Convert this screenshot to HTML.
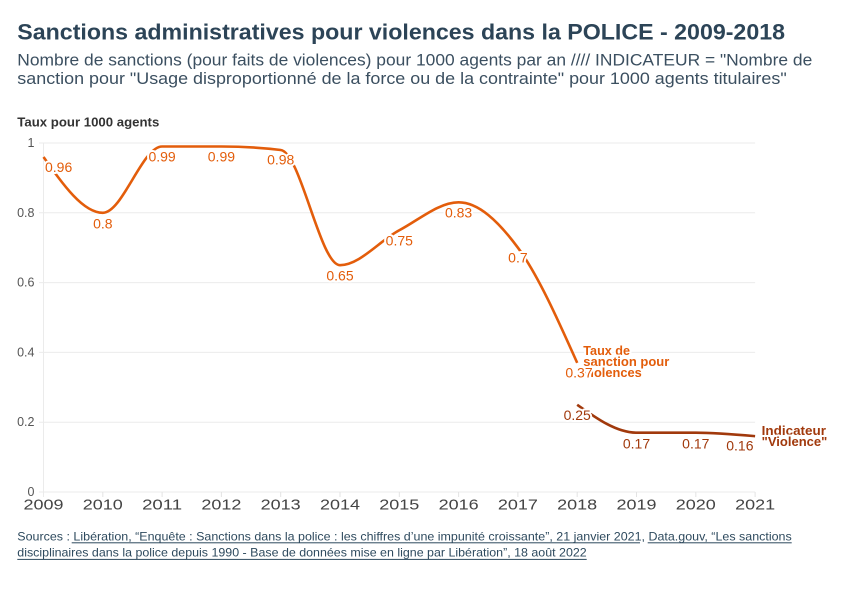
<!DOCTYPE html>
<html>
<head>
<meta charset="utf-8">
<style>
  html,body{margin:0;padding:0;background:#fff;}
  svg{display:block;}
  text{font-family:"Liberation Sans", Arial, sans-serif;}
  .lbl{font-size:14px;stroke:#fff;stroke-width:4px;paint-order:stroke;stroke-linejoin:round;}
</style>
</head>
<body>
<svg width="866" height="598" viewBox="0 0 866 598" xmlns="http://www.w3.org/2000/svg">
  <rect width="866" height="598" fill="#fff"/>

  <!-- Title / subtitle -->
  <text x="17.3" y="39.5" font-size="22.5" font-weight="bold" fill="#2c4457" textLength="767.7" lengthAdjust="spacingAndGlyphs">Sanctions administratives pour violences dans la POLICE - 2009-2018</text>
  <text x="17.3" y="65.5" font-size="17" fill="#3b4f60" textLength="795" lengthAdjust="spacingAndGlyphs">Nombre de sanctions (pour faits de violences) pour 1000 agents par an //// INDICATEUR = "Nombre de</text>
  <text x="17.3" y="84.2" font-size="17" fill="#3b4f60" textLength="769.4" lengthAdjust="spacingAndGlyphs">sanction pour "Usage disproportionné de la force ou de la contrainte" pour 1000 agents titulaires"</text>

  <!-- Axis title -->
  <text x="17.3" y="126.7" font-size="13" font-weight="bold" fill="#333" textLength="142" lengthAdjust="spacingAndGlyphs">Taux pour 1000 agents</text>

  <!-- Gridlines -->
  <g stroke="#ebebeb" stroke-width="1">
    <line x1="39" y1="143" x2="755.1" y2="143"/>
    <line x1="39" y1="212.8" x2="755.1" y2="212.8"/>
    <line x1="39" y1="282.6" x2="755.1" y2="282.6"/>
    <line x1="39" y1="352.4" x2="755.1" y2="352.4"/>
    <line x1="39" y1="422.2" x2="755.1" y2="422.2"/>
    <line x1="39" y1="492" x2="755.1" y2="492"/>
    <line x1="43.5" y1="143" x2="43.5" y2="497"/>
  </g>
  <!-- X ticks -->
  <g stroke="#e3e3e3" stroke-width="1">
    <line x1="102.8" y1="492" x2="102.8" y2="497"/>
    <line x1="162.1" y1="492" x2="162.1" y2="497"/>
    <line x1="221.4" y1="492" x2="221.4" y2="497"/>
    <line x1="280.7" y1="492" x2="280.7" y2="497"/>
    <line x1="340" y1="492" x2="340" y2="497"/>
    <line x1="399.3" y1="492" x2="399.3" y2="497"/>
    <line x1="458.6" y1="492" x2="458.6" y2="497"/>
    <line x1="517.9" y1="492" x2="517.9" y2="497"/>
    <line x1="577.2" y1="492" x2="577.2" y2="497"/>
    <line x1="636.5" y1="492" x2="636.5" y2="497"/>
    <line x1="695.8" y1="492" x2="695.8" y2="497"/>
    <line x1="755.1" y1="492" x2="755.1" y2="497"/>
  </g>

  <!-- Y labels -->
  <g font-size="12.5" fill="#555" text-anchor="end" dominant-baseline="central">
    <text x="34.5" y="143">1</text>
    <text x="34.5" y="212.8">0.8</text>
    <text x="34.5" y="282.6">0.6</text>
    <text x="34.5" y="352.4">0.4</text>
    <text x="34.5" y="422.2">0.2</text>
    <text x="34.5" y="492">0</text>
  </g>

  <!-- X labels -->
  <g font-size="15" fill="#444" text-anchor="middle">
    <text x="43.5" y="509.5" textLength="40" lengthAdjust="spacingAndGlyphs">2009</text>
    <text x="102.8" y="509.5" textLength="40" lengthAdjust="spacingAndGlyphs">2010</text>
    <text x="162.1" y="509.5" textLength="40" lengthAdjust="spacingAndGlyphs">2011</text>
    <text x="221.4" y="509.5" textLength="40" lengthAdjust="spacingAndGlyphs">2012</text>
    <text x="280.7" y="509.5" textLength="40" lengthAdjust="spacingAndGlyphs">2013</text>
    <text x="340" y="509.5" textLength="40" lengthAdjust="spacingAndGlyphs">2014</text>
    <text x="399.3" y="509.5" textLength="40" lengthAdjust="spacingAndGlyphs">2015</text>
    <text x="458.6" y="509.5" textLength="40" lengthAdjust="spacingAndGlyphs">2016</text>
    <text x="517.9" y="509.5" textLength="40" lengthAdjust="spacingAndGlyphs">2017</text>
    <text x="577.2" y="509.5" textLength="40" lengthAdjust="spacingAndGlyphs">2018</text>
    <text x="636.5" y="509.5" textLength="40" lengthAdjust="spacingAndGlyphs">2019</text>
    <text x="695.8" y="509.5" textLength="40" lengthAdjust="spacingAndGlyphs">2020</text>
    <text x="755.1" y="509.5" textLength="40" lengthAdjust="spacingAndGlyphs">2021</text>
  </g>

  <!-- Series lines -->
  <path d="M43.5,156.96 C63.27,184.88 83.03,212.8 102.8,212.8 C122.57,212.8 142.33,146.49 162.1,146.49 C181.87,146.49 201.63,146.49 221.4,146.49 C241.17,146.49 260.93,147.65 280.7,149.98 C300.47,152.31 320.23,265.15 340,265.15 C359.77,265.15 379.53,240.72 399.3,230.25 C419.07,219.78 438.83,202.33 458.6,202.33 C478.37,202.33 498.13,220.94 517.9,247.7 C537.67,274.46 557.43,318.66 577.2,362.87" fill="none" stroke="#e35d0b" stroke-width="2.6" stroke-linecap="butt"/>
  <path d="M577.2,404.75 C596.97,418.71 616.73,432.67 636.5,432.67 C656.27,432.67 676.03,432.67 695.8,432.67 C715.57,432.67 735.33,434.42 755.1,436.16" fill="none" stroke="#a1390c" stroke-width="2.6"/>

  <!-- Legend labels -->
  <g font-size="12.5" font-weight="bold" fill="#e35d0b" class="lbl" style="font-size:12.5px">
    <text x="583.3" y="355" textLength="46.7" lengthAdjust="spacingAndGlyphs">Taux de</text>
    <text x="583.3" y="366" textLength="86" lengthAdjust="spacingAndGlyphs">sanction pour</text>
    <text x="583.3" y="377" textLength="58.4" lengthAdjust="spacingAndGlyphs">violences</text>
  </g>
  <g font-weight="bold" fill="#a1390c" class="lbl" style="font-size:12.5px">
    <text x="761.7" y="435" textLength="64.3" lengthAdjust="spacingAndGlyphs">Indicateur</text>
    <text x="761.7" y="446" textLength="65.6" lengthAdjust="spacingAndGlyphs">"Violence"</text>
  </g>

  <!-- Data labels orange -->
  <g fill="#e35d0b" class="lbl" text-anchor="middle">
    <text x="45" y="172" text-anchor="start">0.96</text>
    <text x="102.8" y="228.3">0.8</text>
    <text x="162.1" y="161.5">0.99</text>
    <text x="221.4" y="161.5">0.99</text>
    <text x="280.7" y="164.5">0.98</text>
    <text x="340" y="280.7">0.65</text>
    <text x="399.3" y="245.7">0.75</text>
    <text x="458.6" y="217.7">0.83</text>
    <text x="517.9" y="262.5">0.7</text>
    <text x="579" y="377.5">0.37</text>
  </g>
  <!-- Data labels brown -->
  <g fill="#a1390c" class="lbl" text-anchor="middle">
    <text x="577.2" y="420">0.25</text>
    <text x="636.5" y="448.3">0.17</text>
    <text x="695.8" y="448.3">0.17</text>
    <text x="753.5" y="450.7" text-anchor="end">0.16</text>
  </g>

  <!-- Footer -->
  <g font-size="12" fill="#2e4a5e">
    <text x="17.3" y="540.5" textLength="774.4" lengthAdjust="spacingAndGlyphs">Sources : Libération, “Enquête : Sanctions dans la police : les chiffres d’une impunité croissante”, 21 janvier 2021, Data.gouv, “Les sanctions</text>
    <text x="17.3" y="556.7" textLength="569.4" lengthAdjust="spacingAndGlyphs">disciplinaires dans la police depuis 1990 - Base de données mise en ligne par Libération”, 18 août 2022</text>
  </g>
  <g fill="#2e4a5e">
    <rect x="71.7" y="542.3" width="568.3" height="1"/>
    <rect x="647.7" y="542.3" width="144" height="1"/>
    <rect x="17.3" y="558.9" width="569.4" height="1"/>
  </g>
</svg>
</body>
</html>
